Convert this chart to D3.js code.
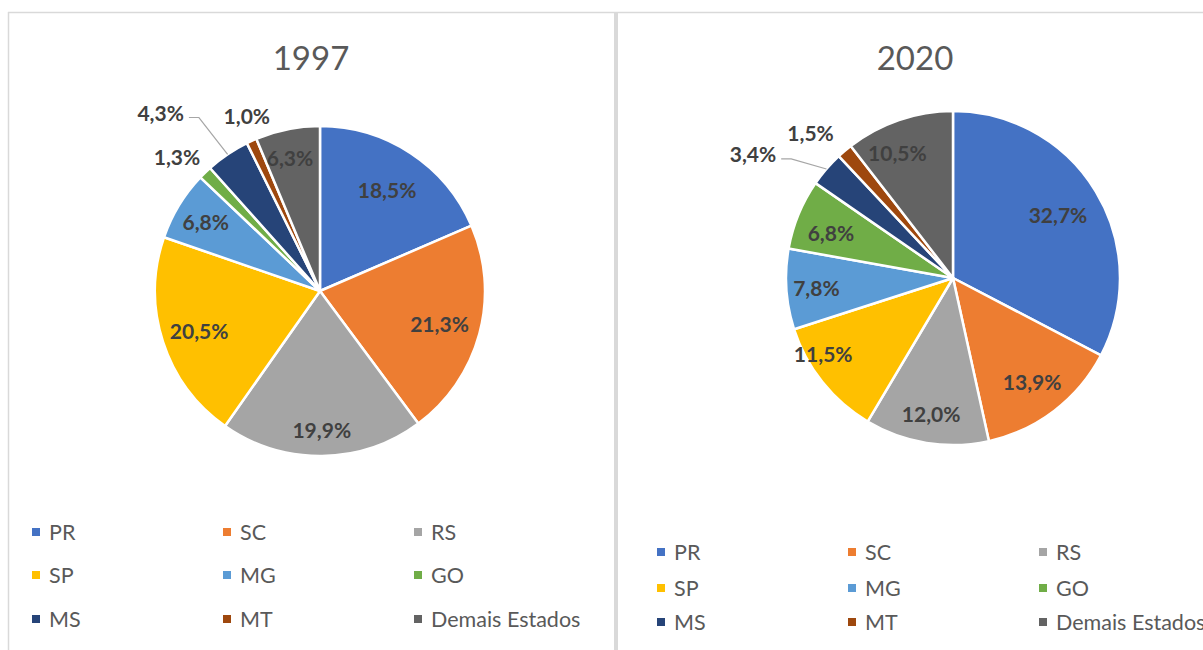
<!DOCTYPE html>
<html>
<head>
<meta charset="utf-8">
<script src="https://cdn.jsdelivr.net/npm/d3@7"></script>
<style>
  body { margin: 0; background: #fff; }
  svg text { font-family: Lato, "Open Sans", sans-serif; }
</style>
</head>
<body>
<div id="chart"></div>
<script>
// Two pies: share by state, 1997 vs 2020
const categories = ["PR", "SC", "RS", "SP", "MG", "GO", "MS", "MT", "Demais Estados"];
const values1997 = [18.5, 21.3, 19.9, 20.5, 6.8, 1.3, 4.3, 1.0, 6.3];
const values2020 = [32.7, 13.9, 12.0, 11.5, 7.8, 6.8, 3.4, 1.5, 10.5];
const years = ["1997", "2020"];

const colors = ["#4472C4", "#ED7D31", "#A5A5A5", "#FFC000", "#5B9BD5",
                "#70AD47", "#264478", "#9E480E", "#636363"];

const W = 1203, H = 650;

// label placement (radius factor, angle shift in degrees), Excel "best fit" look
const labelLayout = {
  "1997": { r: [0.74, 0.75, 0.84, 0.77, 0.81, 1.19, 1.45, 1.15, 0.83],
            da: [0, 0, 0, 0, 0, -2.6, -7.7, 1.8, -1.3],
            leader: [false, false, false, false, false, false, true, false, false] },
  "2020": { r: [0.735, 0.78, 0.82, 0.9, 0.82, 0.78, 1.41, 1.22, 0.82],
            da: [0, 0, 0, 8.3, 0, -2, -8.9, -3.9, -5.1],
            leader: [false, false, false, false, false, false, true, false, false] }
};

const panels = [
  { year: years[0], values: values1997, left: 8, right: 614, cx: 320, cy: 291, r: 165,
    legendX: 32, legendRows: [532, 575, 619] },
  { year: years[1], values: values2020, left: 618, right: 1212, cx: 953, cy: 278, r: 167,
    legendX: 657, legendRows: [552, 588, 622] }
];

const color = d3.scaleOrdinal().domain(categories).range(colors);

const svg = d3.select("#chart").append("svg")
  .attr("width", W)
  .attr("height", H);

svg.append("rect").attr("width", W).attr("height", H).attr("fill", "#fff");

// frame lines
svg.append("line")
  .attr("x1", 8).attr("x2", W).attr("y1", 12.5).attr("y2", 12.5)
  .attr("stroke", "#d9d9d9").attr("stroke-width", 1.5);
svg.append("line")
  .attr("x1", 8.5).attr("x2", 8.5).attr("y1", 12).attr("y2", H)
  .attr("stroke", "#d9d9d9").attr("stroke-width", 1.5);
svg.append("rect")
  .attr("x", 614).attr("y", 12).attr("width", 4).attr("height", H - 12)
  .attr("fill", "#d9d9d9");

const fmt = v => v.toFixed(1).replace(".", ",") + "%";
const toRad = d => d * Math.PI / 180;

panels.forEach(p => {
  const g = svg.append("g");
  const layout = labelLayout[p.year];

  // title
  g.append("text")
    .attr("x", (p.left + p.right) / 2)
    .attr("y", 70)
    .attr("text-anchor", "middle")
    .attr("fill", "#595959")
    .style("font-size", "33px")
    .text(p.year);

  const data = categories.map((c, i) => ({ cat: c, value: p.values[i], i }));

  const pie = d3.pie().sort(null).value(d => d.value);
  const arcs = pie(data);
  const arc = d3.arc().innerRadius(0).outerRadius(p.r);

  const pg = g.append("g").attr("transform", `translate(${p.cx},${p.cy})`);

  pg.selectAll("path")
    .data(arcs)
    .join("path")
    .attr("d", arc)
    .attr("fill", d => color(d.data.cat))
    .attr("stroke", "#fff")
    .attr("stroke-width", 2.5)
    .attr("stroke-linejoin", "round");

  arcs.forEach(a => {
    const i = a.data.i;
    const mid = (a.startAngle + a.endAngle) / 2;
    const ang = mid + toRad(layout.da[i]);
    const rr = layout.r[i] * p.r;
    const lx = Math.sin(ang) * rr;
    const ly = -Math.cos(ang) * rr;

    const t = pg.append("text")
      .attr("x", lx)
      .attr("y", ly)
      .attr("text-anchor", "middle")
      .attr("dominant-baseline", "central")
      .attr("fill", "#404040")
      .style("font-size", "21px")
      .style("font-weight", "700")
      .text(fmt(a.data.value));

    if (layout.leader[i]) {
      const w = t.node().getComputedTextLength();
      const x0 = lx + w / 2 + 5;
      const y0 = ly + 5;
      const ex = Math.sin(mid) * p.r;
      const ey = -Math.cos(mid) * p.r;
      pg.append("polyline")
        .attr("points", `${x0},${y0} ${x0 + 10},${y0} ${ex},${ey}`)
        .attr("fill", "none")
        .attr("stroke", "#a6a6a6")
        .attr("stroke-width", 1.2);
    }
  });

  // legend 3 x 3
  const lg = g.append("g");
  categories.forEach((c, i) => {
    const col = i % 3, row = Math.floor(i / 3);
    const x = p.legendX + col * 191;
    const y = p.legendRows[row];
    lg.append("rect")
      .attr("x", x).attr("y", y - 4)
      .attr("width", 8).attr("height", 8)
      .attr("fill", color(c));
    lg.append("text")
      .attr("x", x + 17)
      .attr("y", y)
      .attr("dominant-baseline", "central")
      .attr("fill", "#595959")
      .style("font-size", "21.5px")
      .text(c);
  });
});
</script>
</body>
</html>
